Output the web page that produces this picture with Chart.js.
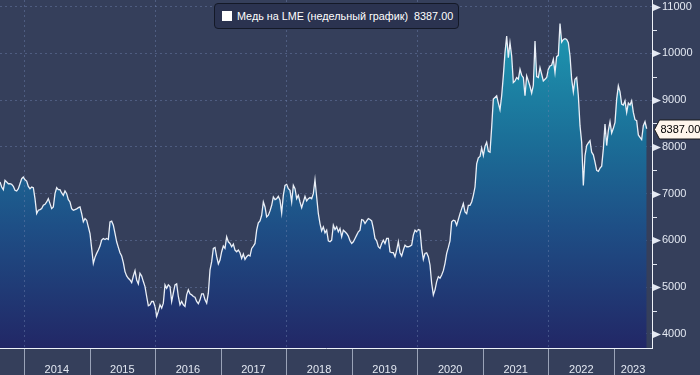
<!DOCTYPE html>
<html>
<head>
<meta charset="utf-8">
<script src="https://cdn.jsdelivr.net/npm/chart.js@4/dist/chart.umd.min.js"></script>
<style>
  body { margin: 0; background: #353f5b; }
  #wrap { position: relative; width: 700px; height: 375px; }
  #legend {
    position: absolute; left: 214px; top: 3px; width: 245px; height: 26px;
    box-sizing: border-box; background: #2b3350; border: 1px solid #141927; border-radius: 4px;
    color: #ffffff; font: 10.8px "Liberation Sans", sans-serif; white-space: nowrap;
    display: flex; align-items: center; padding-left: 7px;
  }
  #legend .sw { flex: 0 0 10px; width: 10px; height: 10px; background: #ffffff; margin-right: 5px; }
  #legend .val { margin-left: 6px; }
</style>
</head>
<body>
<div id="wrap">
  <canvas id="copper-canvas" width="700" height="375"></canvas>
  <div id="legend"><span class="sw"></span>Медь на LME (недельный график)<span class="val" id="legend-value"></span></div>
</div>
<script>
var years = [2014, 2015, 2016, 2017, 2018, 2019, 2020, 2021, 2022, 2023];
var yTicks = [4000, 5000, 6000, 7000, 8000, 9000, 10000, 11000];

// first sample sits at the left edge of the plot, samples are evenly spaced
var startYear = 2013.634;
var stepYears = 0.025422;
var xMin = 2013.634, xMax = 2023.579;

var seg2013 = [
  7248, 7141, 7085, 7283, 7248, 7212, 7212, 7198, 7156, 7070,
  7056, 7106, 7212, 7319, 7354, 7297, 7269, 7156, 7106, 7141,
  7127, 6893, 6574, 6645, 6659, 6680, 6751, 6773, 6822, 6893,
  6787, 6680, 6716, 7000, 7127, 7085, 7085, 7014, 6964, 7056,
  7000, 6872, 6822, 6680, 6645, 6659, 6673, 6701, 6716, 6574,
  6397, 6468, 6432, 6290, 6148, 5829, 5510, 5638, 5723, 5794,
  5879, 6006, 6042, 6021, 6042, 6021, 6397, 6411, 6326, 6148,
  5971, 5850, 5737, 5666, 5524, 5333, 5240, 5191, 5155, 5099,
  5240, 5354, 5155, 5070, 5297, 5240, 5120, 5014, 4801, 4602,
  4623, 4694, 4694, 4588, 4375, 4482, 4623, 4552, 4659
];
var seg2016 = [
  5049, 4978, 5049, 5014, 4694, 4872, 5049, 5070, 4801, 4623,
  4694, 4623, 4588, 4836, 4943, 4858, 4836, 4801, 4787, 4694,
  4645, 4730, 4858, 4858, 4730, 4659, 4872, 5368, 5545, 5829,
  5850, 5652, 5496, 5581, 5758, 5879, 5829, 6077, 5971, 5936,
  5865, 5921, 5794, 5758, 5794, 5737, 5616, 5709, 5595, 5652,
  5687, 5666, 5829, 5879, 5936, 6219, 6375, 6418, 6538, 6822,
  6716, 6503, 6538, 6631, 6751, 6929, 6872, 6893, 6943, 6858,
  6588, 6964, 7177, 7198, 7106, 7070, 6822, 7177, 7106, 6893,
  6964, 6822, 6701, 6822, 6943, 6844, 6893, 6915, 6893, 7000,
  7297, 6929, 6574, 6361, 6205, 6290, 6162, 6219, 5992
];
var seg2018 = [
  5971, 6006, 6326, 6233, 6290, 6184, 6255, 6077, 6219, 6184,
  6148, 6092, 5992, 5935, 5971, 6042, 6113, 6184, 6219, 6446,
  6432, 6361, 6418, 6468, 6446, 6418, 6255, 6042, 5992, 5865,
  5829, 5935, 6006, 5935, 6042, 6042, 5758, 5737, 5737, 5652,
  5794, 5971, 5737, 5666, 5794, 5900, 5865, 5865, 5879, 5900,
  6113, 6219, 6184, 6233, 6219, 5829, 5595, 5723, 5737, 5652,
  5475, 5084, 4836, 4943, 5120, 5226, 5191, 5262, 5354, 5510,
  5723, 5850, 5992, 6397, 6432, 6418, 6326, 6446, 6574, 6680,
  6787, 6609, 6574, 6751, 6751, 6822, 6964, 7142, 7638, 7766,
  7794, 7978, 7815, 8013, 8099, 7907, 7886, 8418, 9021
];
var seg2021 = [
  9056, 9092, 8936, 8794, 9092, 9517, 10014, 10368, 9907, 10227,
  9943, 9375, 9411, 9482, 9446, 9659, 9531, 9482, 9092, 9517,
  9411, 9290, 9148, 9319, 10262, 9503, 9482, 9695, 9553, 9411,
  9446, 9482, 9659, 9730, 9744, 9872, 9588, 9929, 9957, 10638,
  10241, 10297, 10312, 10297, 10227, 9943, 9446, 9177, 9446, 9482,
  9092, 8453, 8099, 7177, 7815, 8028, 8085, 8134, 7886, 7829,
  7673, 7496, 7475, 7546, 7588, 7957, 8489, 8028, 8347, 8538,
  8297, 8397, 8524, 9021, 9305, 9177, 8914, 8893, 8985, 8737,
  8936, 8893, 8985, 8737, 8581, 8560, 8255, 8205, 8155, 8453,
  8538, 8387
];

var prices = seg2013.concat(seg2016, seg2018, seg2021);
var lastPrice = prices[prices.length - 1];

var fontFamily = '"Liberation Sans", sans-serif';
var textColor = '#e3e8f2';
var gridColor = 'rgba(110,130,175,0.45)';

document.getElementById('legend-value').textContent = lastPrice.toFixed(2);

var points = prices.map(function(p, i) {
    return { x: startYear + i * stepYears, y: p };
});

var extras = {
    id: 'extras',
    afterDatasetsDraw: function(chart) {
        var c = chart.ctx, xs = chart.scales.x, ca = chart.chartArea;
        c.save();
        c.strokeStyle = gridColor;
        c.lineWidth = 1;
        c.setLineDash([2, 3]);
        years.forEach(function(y) {
            if (y % 2 !== 0) return;
            var px = Math.round(xs.getPixelForValue(y)) + 0.5;
            c.beginPath();
            c.moveTo(px, ca.top);
            c.lineTo(px, ca.bottom);
            c.stroke();
        });
        c.restore();
    },
    afterDraw: function(chart) {
        var c = chart.ctx, xs = chart.scales.x, ys = chart.scales.y;
        c.save();
        // year separators under the axis
        c.strokeStyle = '#9aa3b8';
        c.lineWidth = 1;
        years.forEach(function(y) {
            var px = Math.round(xs.getPixelForValue(y)) + 0.5;
            c.beginPath();
            c.moveTo(px, xs.top + 1);
            c.lineTo(px, chart.height);
            c.stroke();
        });
        // arrow ticks on the price axis, short ticks at the half steps
        c.fillStyle = textColor;
        c.strokeStyle = textColor;
        yTicks.forEach(function(v) {
            var py = Math.round(ys.getPixelForValue(v)) + 0.5;
            c.beginPath();
            c.moveTo(ys.left + 1, py - 3.5);
            c.lineTo(ys.left + 9, py);
            c.lineTo(ys.left + 1, py + 3.5);
            c.closePath();
            c.fill();
            if (v < 11000) {
                var pm = Math.round(ys.getPixelForValue(v + 500)) + 0.5;
                c.beginPath();
                c.moveTo(ys.left, pm);
                c.lineTo(ys.left + 5, pm);
                c.stroke();
            }
        });
        // last price tag
        var py = Math.round(ys.getPixelForValue(lastPrice)) + 0.5;
        var x0 = ys.left + 2.5;
        c.beginPath();
        c.moveTo(x0, py);
        c.lineTo(x0 + 5, py - 9.5);
        c.lineTo(chart.width + 2, py - 9.5);
        c.lineTo(chart.width + 2, py + 9.5);
        c.lineTo(x0 + 5, py + 9.5);
        c.closePath();
        c.fillStyle = '#fff6ec';
        c.fill();
        c.strokeStyle = '#1a1a1a';
        c.stroke();
        c.fillStyle = '#000000';
        c.font = '11px ' + fontFamily;
        c.textBaseline = 'middle';
        c.fillText(lastPrice.toFixed(2), x0 + 6, py + 0.5);
        c.restore();
    }
};

window.onload = function() {
    var ctx = document.getElementById('copper-canvas').getContext('2d');
    window.copperChart = new Chart(ctx, {
        type: 'line',
        data: {
            datasets: [{
                label: 'Медь на LME (недельный график)',
                data: points,
                borderColor: '#eaeff7',
                borderWidth: 1.3,
                pointRadius: 0,
                tension: 0,
                fill: 'start',
                backgroundColor: function(context) {
                    var ca = context.chart.chartArea;
                    if (!ca) return 'rgba(0,0,0,0)';
                    var g = context.chart.ctx.createLinearGradient(0, ca.top, 0, ca.bottom);
                    g.addColorStop(0, '#22a0b8');
                    g.addColorStop(0.15, '#1d8eab');
                    g.addColorStop(0.4, '#1b6f98');
                    g.addColorStop(0.65, '#1e4f86');
                    g.addColorStop(1, '#222766');
                    return g;
                }
            }]
        },
        options: {
            responsive: false,
            animation: false,
            devicePixelRatio: 1,
            layout: { padding: 0 },
            plugins: {
                legend: { display: false },
                tooltip: { enabled: false }
            },
            scales: {
                x: {
                    type: 'linear',
                    min: xMin,
                    max: xMax,
                    afterBuildTicks: function(s) {
                        s.ticks = years.map(function(y) {
                            return { value: y === 2023 ? (2023 + xMax) / 2 : y + 0.5 };
                        });
                    },
                    afterFit: function(s) {
                        s.height = 27;
                        s.paddingLeft = 0; s.paddingRight = 0;
                    },
                    grid: { display: false, drawTicks: false },
                    border: { color: '#eef2f8', width: 1 },
                    ticks: {
                        color: textColor,
                        padding: 15,
                        autoSkip: false,
                        maxRotation: 0,
                        font: { family: fontFamily, size: 11 },
                        callback: function(v) { return String(Math.floor(v)); }
                    }
                },
                y: {
                    position: 'right',
                    min: 3700,
                    max: 11140,
                    z: 1,
                    afterBuildTicks: function(s) {
                        s.ticks = yTicks.map(function(v) { return { value: v }; });
                    },
                    afterFit: function(s) {
                        s.width = 48;
                        s.paddingTop = 0; s.paddingBottom = 0;
                    },
                    grid: { color: gridColor, drawTicks: false },
                    border: { color: '#eef2f8', width: 1, dash: [2, 3] },
                    ticks: {
                        color: textColor,
                        padding: 10,
                        font: { family: fontFamily, size: 11 },
                        callback: function(v) { return String(v); }
                    }
                }
            }
        },
        plugins: [extras]
    });
};
</script>
</body>
</html>
